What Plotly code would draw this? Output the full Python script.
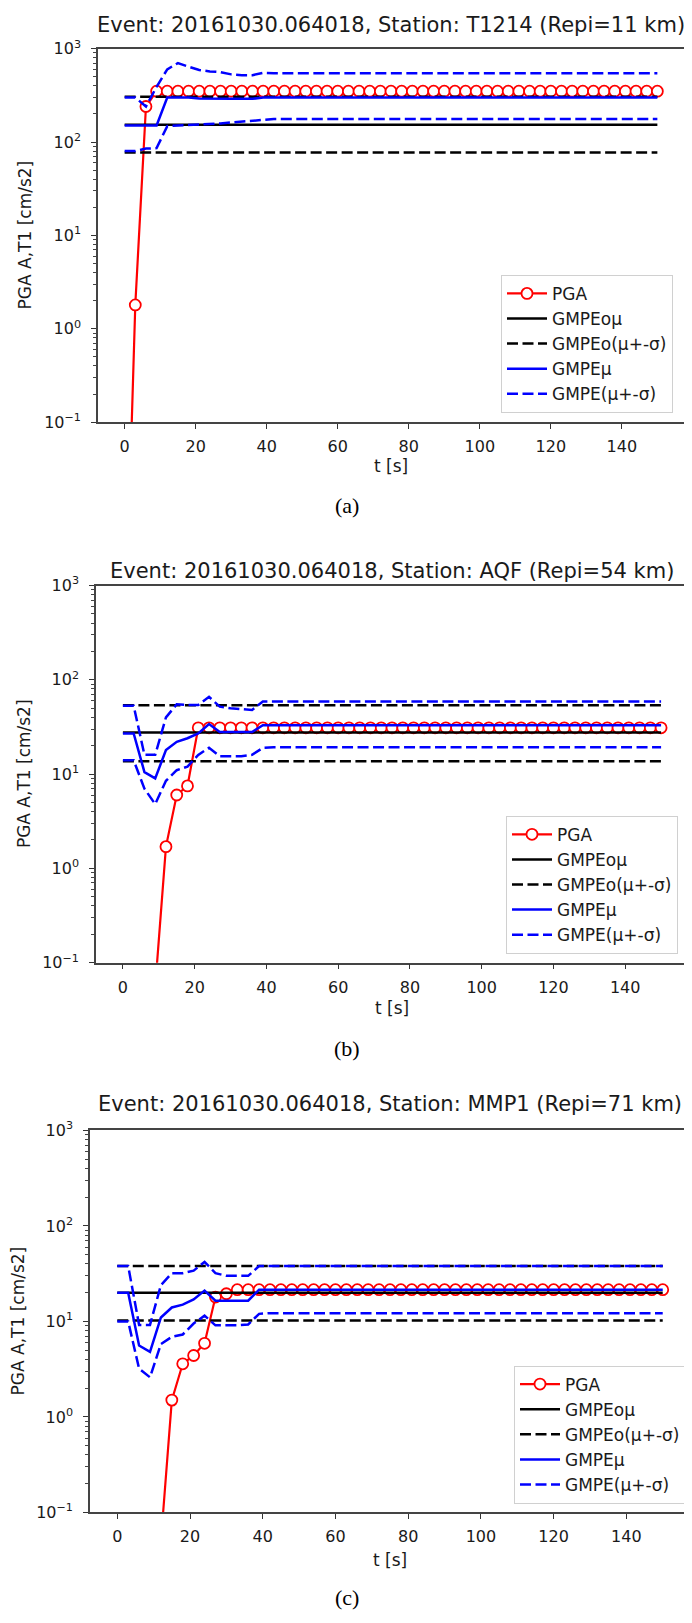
import plotly.graph_objects as go

W, H = 692, 1623

# ---------------- data ----------------
t_pga = list(range(0, 151, 3))
t_gmpe = [0, 3, 6, 9, 12, 15, 18, 21, 24, 27, 30, 33, 36, 39, 42, 150]
t_gmpeo = [0, 150]

# panel (a)  T1214
pga_a = [0.0003, 1.8, 240, 350, 350, 350, 350, 350, 350, 350,
         350, 350, 350, 350, 350, 350, 350, 350, 350, 350,
         350, 350, 350, 350, 350, 350, 350, 350, 350, 350,
         350, 350, 350, 350, 350, 350, 350, 350, 350, 350,
         350, 350, 350, 350, 350, 350, 350, 350, 350, 350,
         350]
gmpeo_mu_a = [153, 153]
gmpeo_hi_a = [306, 306]
gmpeo_lo_a = [77, 77]
gmpe_mu_a = [150, 150, 150, 150, 300, 300, 300, 292, 290, 290, 290, 290, 290, 300, 300, 300]
gmpe_hi_a = [300, 300, 240, 390, 600, 700, 640, 590, 570, 560, 530, 520, 520, 550, 545, 545]
gmpe_lo_a = [80, 80, 85, 86, 148, 150, 150, 153, 155, 158, 162, 165, 170, 174, 176, 176]

# panel (b)  AQF
pga_b = [None, None, None, 0.055, 1.7, 6.0, 7.5, 31, 31, 31,
         31, 31, 31, 31, 31, 31, 31, 31, 31, 31,
         31, 31, 31, 31, 31, 31, 31, 31, 31, 31,
         31, 31, 31, 31, 31, 31, 31, 31, 31, 31,
         31, 31, 31, 31, 31, 31, 31, 31, 31, 31,
         31]
gmpeo_mu_b = [27.7, 27.7]
gmpeo_hi_b = [53.7, 53.7]
gmpeo_lo_b = [13.7, 13.7]
gmpe_mu_b = [27, 27, 10.5, 9, 18, 22, 24, 27, 34, 28, 28, 28, 28, 33, 33, 33]
gmpe_hi_b = [53, 53, 16, 16, 40, 55, 54, 54, 66, 52, 50, 49, 48, 59, 59, 59]
gmpe_lo_b = [14, 14, 7, 4.8, 8.5, 11, 12, 16, 19, 15.5, 15.5, 15.5, 16, 19, 19.3, 19.3]

# panel (c)  MMP1
pga_c = [None, None, None, None, 0.05, 1.5, 3.6, 4.4, 5.9, 18,
         19.5, 21.5, 21.5, 21.5, 21.5, 21.5, 21.5, 21.5, 21.5, 21.5,
         21.5, 21.5, 21.5, 21.5, 21.5, 21.5, 21.5, 21.5, 21.5, 21.5,
         21.5, 21.5, 21.5, 21.5, 21.5, 21.5, 21.5, 21.5, 21.5, 21.5,
         21.5, 21.5, 21.5, 21.5, 21.5, 21.5, 21.5, 21.5, 21.5, 21.5,
         21.5]
gmpeo_mu_c = [20, 20]
gmpeo_hi_c = [38, 38]
gmpeo_lo_c = [10.2, 10.2]
gmpe_mu_c = [20, 20, 5.6, 4.8, 11, 14, 15, 17, 21, 16.5, 16.5, 16.5, 16.5, 21.5, 21.5, 21.5]
gmpe_hi_c = [38, 38, 9.2, 9.2, 24, 32, 32, 34, 42, 32, 30, 30, 30, 38, 38, 38]
gmpe_lo_c = [10, 10, 3.2, 2.6, 5.8, 6.9, 7.3, 9.5, 11.5, 9.1, 9.1, 9.1, 9.3, 12, 12.2, 12.2]

titles = ["Event: 20161030.064018, Station: T1214 (Repi=11 km)",
          "Event: 20161030.064018, Station: AQF (Repi=54 km)",
          "Event: 20161030.064018, Station: MMP1 (Repi=71 km)"]
captions = ["(a)", "(b)", "(c)"]
legend_names = ["PGA", "GMPEoμ", "GMPEo(μ+-σ)", "GMPEμ", "GMPE(μ+-σ)"]
x_ticks = [0, 20, 40, 60, 80, 100, 120, 140]
y_ticks = [0.1, 1, 10, 100, 1000]
y_ticktext = ["10<sup>−1</sup>", "10<sup>0</sup>", "10<sup>1</sup>", "10<sup>2</sup>", "10<sup>3</sup>"]
y_minor = [m * 10.0 ** e for e in range(-1, 3) for m in range(2, 10)]
y_label = "PGA A,T1 [cm/s2]"
x_label = "t [s]"

# ---------------- layout (pixel boxes, in window pixels) ----------------
panels = [
    dict(pga=pga_a, omu=gmpeo_mu_a, ohi=gmpeo_hi_a, olo=gmpeo_lo_a,
         mu=gmpe_mu_a, hi=gmpe_hi_a, lo=gmpe_lo_a,
         box=(98, 684, 38, 416.5), title_y=14.5, ylab_x=25, xlab_y=461, cap_y=501,
         leg=(673, 407)),
    dict(pga=pga_b, omu=gmpeo_mu_b, ohi=gmpeo_hi_b, olo=gmpeo_lo_b,
         mu=gmpe_mu_b, hi=gmpe_hi_b, lo=gmpe_lo_b,
         box=(96, 688, 582, 964), title_y=567, ylab_x=24, xlab_y=1010, cap_y=1051,
         leg=(678, 955)),
    dict(pga=pga_c, omu=gmpeo_mu_c, ohi=gmpeo_hi_c, olo=gmpeo_lo_c,
         mu=gmpe_mu_c, hi=gmpe_hi_c, lo=gmpe_lo_c,
         box=(90, 690, 1134, 1521), title_y=1107.5, ylab_x=18, xlab_y=1569, cap_y=1607,
         leg=(686, 1512)),
]

# the html page body has an 8px margin; compensate so window pixels match
OFF = 8
FONT = "DejaVu Sans"
TXT = "#1a1a1a"
RED, BLUE, BLACK = "#ff0000", "#0000ff", "#000000"
DASH = "11px,4.5px"
LW = 2.5

fig = go.Figure()
layout = dict(width=W, height=H, autosize=False, margin=dict(l=0, r=0, t=0, b=0),
              paper_bgcolor="white", plot_bgcolor="white",
              font=dict(family=FONT, size=16, color=TXT))
annotations = []


def px(x):
    return (x - OFF) / W


def py(y):
    return 1 - (y - OFF) / H


for i, p in enumerate(panels):
    n = "" if i == 0 else str(i + 1)
    xa, ya = "x" + n, "y" + n
    lg = "legend" + n
    x0, x1, y0, y1 = p["box"]

    fig.add_trace(go.Scatter(x=t_pga, y=p["pga"], mode="lines+markers", name=legend_names[0],
                             xaxis=xa, yaxis=ya, legend=lg,
                             line=dict(color=RED, width=2.2),
                             marker=dict(symbol="circle", size=11, color="white",
                                         line=dict(color=RED, width=1.8))))
    fig.add_trace(go.Scatter(x=t_gmpeo, y=p["omu"], mode="lines", name=legend_names[1],
                             xaxis=xa, yaxis=ya, legend=lg,
                             line=dict(color=BLACK, width=LW)))
    fig.add_trace(go.Scatter(x=t_gmpeo + [None] + t_gmpeo, y=p["ohi"] + [None] + p["olo"],
                             mode="lines", name=legend_names[2], xaxis=xa, yaxis=ya, legend=lg,
                             line=dict(color=BLACK, width=LW, dash=DASH)))
    fig.add_trace(go.Scatter(x=t_gmpe, y=p["mu"], mode="lines", name=legend_names[3],
                             xaxis=xa, yaxis=ya, legend=lg,
                             line=dict(color=BLUE, width=LW)))
    fig.add_trace(go.Scatter(x=t_gmpe + [None] + t_gmpe, y=p["hi"] + [None] + p["lo"],
                             mode="lines", name=legend_names[4], xaxis=xa, yaxis=ya, legend=lg,
                             line=dict(color=BLUE, width=LW, dash=DASH)))

    layout["xaxis" + n] = dict(domain=[px(x0), px(x1)], anchor=ya, range=[-7.5, 157.5],
                               tickvals=x_ticks, ticks="outside", ticklen=5, tickwidth=1.3,
                               tickcolor="#333333", showline=True, linecolor="#444444",
                               linewidth=1.6, mirror=True, showgrid=False, zeroline=False,
                               tickfont=dict(size=16, color=TXT), ticklabelstandoff=4)
    layout["yaxis" + n] = dict(domain=[py(y1), py(y0)], anchor=xa, type="log", range=[-1, 3],
                               tickvals=y_ticks, ticktext=y_ticktext, ticks="outside",
                               ticklen=5, tickwidth=1.3, tickcolor="#333333",
                               showline=True, linecolor="#444444", linewidth=1.6, mirror=True,
                               showgrid=False, zeroline=False, tickfont=dict(size=16, color=TXT),
                               ticklabelstandoff=7,
                               minor=dict(tickvals=y_minor, ticks="outside", ticklen=3,
                                          tickcolor="#444444", showgrid=False))
    lx, ly = p["leg"]
    layout[lg] = dict(x=px(lx), y=py(ly), xanchor="right", yanchor="bottom",
                      bordercolor="#d0d0d0", borderwidth=1, bgcolor="rgba(255,255,255,0.85)",
                      font=dict(size=17, family=FONT, color=TXT), itemwidth=40,
                      tracegroupgap=0)

    annotations.append(dict(text=titles[i], x=px((x0 + x1) / 2), y=py(p["title_y"]),
                            xref="paper", yref="paper", showarrow=False, xanchor="center",
                            yanchor="middle", font=dict(size=21, family=FONT, color=TXT)))
    annotations.append(dict(text=y_label, x=px(p["ylab_x"]), y=py((y0 + y1) / 2),
                            xref="paper", yref="paper", showarrow=False, textangle=-90,
                            xanchor="center", yanchor="middle",
                            font=dict(size=17, family=FONT, color=TXT)))
    annotations.append(dict(text=x_label, x=px((x0 + x1) / 2), y=py(p["xlab_y"]),
                            xref="paper", yref="paper", showarrow=False, xanchor="center",
                            yanchor="middle", font=dict(size=17, family=FONT, color=TXT)))
    annotations.append(dict(text=captions[i], x=px(347), y=py(p["cap_y"]),
                            xref="paper", yref="paper", showarrow=False, xanchor="center",
                            yanchor="middle",
                            font=dict(size=22, family="Liberation Serif", color="black")))

layout["annotations"] = annotations
fig.update_layout(**layout)
fig.write_html("out.html")
